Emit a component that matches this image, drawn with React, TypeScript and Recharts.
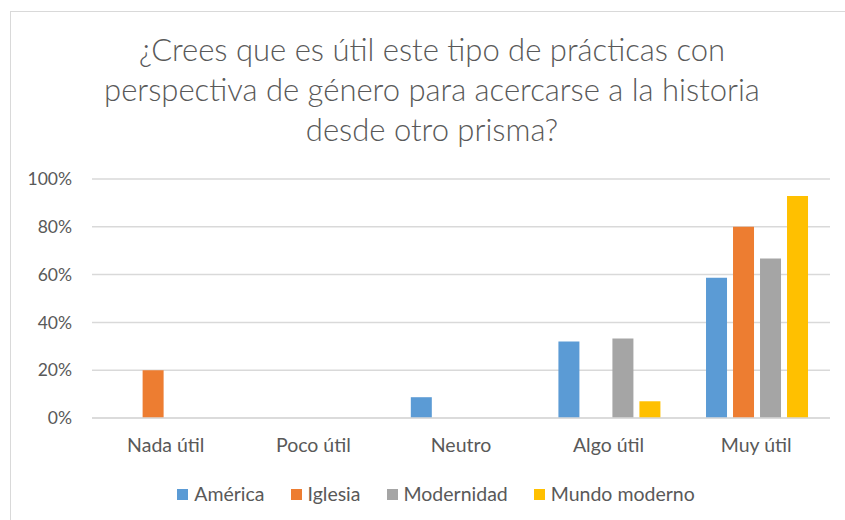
import React from 'react';
import { BarChart, Bar, XAxis, YAxis, CartesianGrid } from 'recharts';

const categories = ['Nada útil', 'Poco útil', 'Neutro', 'Algo útil', 'Muy útil'];
const america = [0, 0, 0.087, 0.32, 0.587];
const iglesia = [0.2, 0, 0, 0, 0.8];
const modernidad = [0, 0, 0, 0.333, 0.667];
const mundoModerno = [0, 0, 0, 0.07, 0.929];
const yTicks = [0, 0.2, 0.4, 0.6, 0.8, 1];

const series = [
  { key: 'america', name: 'América', color: '#5b9bd5' },
  { key: 'iglesia', name: 'Iglesia', color: '#ed7d31' },
  { key: 'modernidad', name: 'Modernidad', color: '#a5a5a5' },
  { key: 'mundoModerno', name: 'Mundo moderno', color: '#ffc000' },
];

const data = categories.map((c, i) => ({
  name: c,
  america: america[i],
  iglesia: iglesia[i],
  modernidad: modernidad[i],
  mundoModerno: mundoModerno[i],
}));

const FONT = 'Lato, "Open Sans", sans-serif';
const TEXT = '#595959';

const App: React.FC = () => {
  return (
    <div style={{ position: 'absolute', left: 0, top: 0, width: 845, height: 520, background: '#fff', overflow: 'hidden', fontFamily: FONT }}>
      {/* chart frame */}
      <div style={{ position: 'absolute', left: 10, top: 11, width: 845, height: 520, border: '1px solid #d9d9d9' }} />
      <div
        style={{
          position: 'absolute', left: 0, top: 29, width: 864, textAlign: 'center',
          fontSize: 31, lineHeight: '40px', color: TEXT, fontWeight: 300,
        }}
      >
        ¿Crees que es útil este tipo de prácticas con<br />
        perspectiva de género para acercarse a la historia<br />
        desde otro prisma?
      </div>
      <div style={{ position: 'absolute', left: 0, top: 0 }}>
        <BarChart
          width={845}
          height={520}
          data={data}
          margin={{ top: 179, right: 15, bottom: 72, left: 0 }}
          barCategoryGap="16%"
          barGap={6}
        >
          <CartesianGrid vertical={false} stroke="#d9d9d9" strokeWidth={1.5} />
          <XAxis
            dataKey="name"
            height={30}
            axisLine={{ stroke: '#d9d9d9', strokeWidth: 1.5 }}
            tickLine={false}
            tick={{ fill: TEXT, fontSize: 19.5, fontFamily: FONT }}
            tickMargin={14}
          />
          <YAxis
            width={92}
            domain={[0, 1]}
            ticks={yTicks}
            axisLine={false}
            tickLine={false}
            tickFormatter={(v: number) => `${Math.round(v * 100)}%`}
            tick={{ fill: TEXT, fontSize: 17.5, fontFamily: FONT }}
            tickMargin={14}
          />
          {series.map((s) => (
            <Bar key={s.key} dataKey={s.key} name={s.name} fill={s.color} isAnimationActive={false} />
          ))}
        </BarChart>
      </div>
      {/* legend */}
      <div
        style={{
          position: 'absolute', left: 0, top: 481, width: 872, display: 'flex', justifyContent: 'center',
          gap: 26, fontSize: 19.5, color: TEXT, lineHeight: '26px',
        }}
      >
        {series.map((s) => (
          <div key={s.key} style={{ display: 'flex', alignItems: 'center' }}>
            <span style={{ display: 'inline-block', width: 11, height: 11, background: s.color, marginRight: 6 }} />
            {s.name}
          </div>
        ))}
      </div>
    </div>
  );
};

export default App;
